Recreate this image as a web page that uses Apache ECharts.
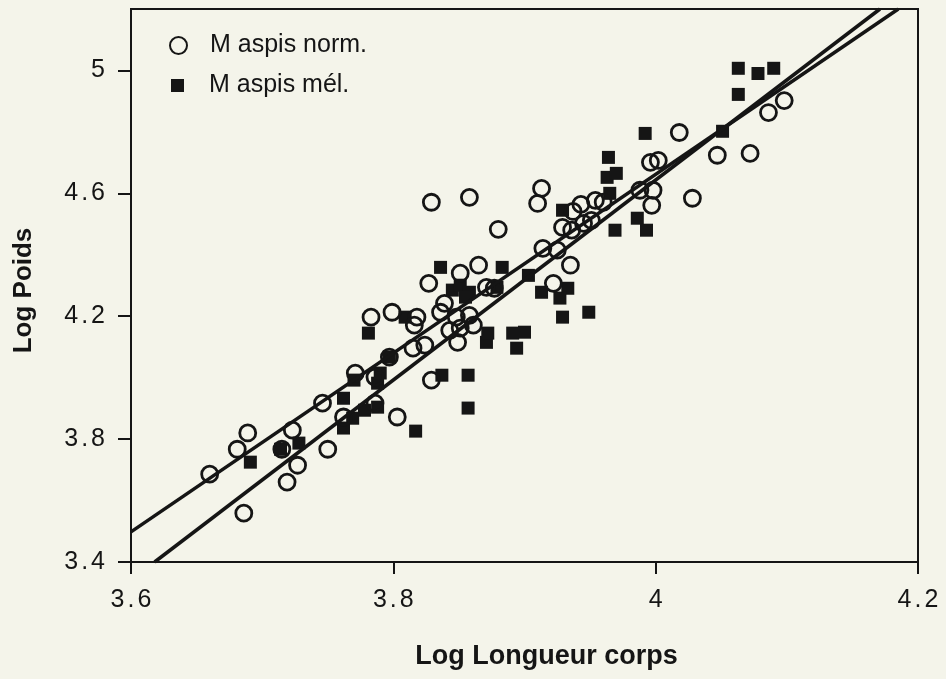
<!DOCTYPE html>
<html>
<head>
<meta charset="utf-8">
<script src="https://cdn.jsdelivr.net/npm/echarts@6/dist/echarts.min.js"></script>
<style>
html,body{margin:0;padding:0;background:#f4f4ea;}
#c{width:946px;height:679px;}
</style>
</head>
<body>
<div id="c"></div>
<script>
// Tick labels
const xTicks = [3.6, 3.8, 4.0, 4.2];
const yTicks = [3.4, 3.8, 4.2, 4.6, 5.0];

// M aspis norm. (open circles)
const normX = [3.660,3.681,3.689,3.686,3.715,3.723,3.727,3.719,3.750,3.746,3.762,3.786,3.803,3.783,3.799,3.818,3.816,3.827,3.836,3.839,3.824,3.815,3.771,3.786,3.829,3.829,3.858,3.880,3.851,3.865,3.858,3.871,3.877,3.848,3.861,3.851,3.843,3.849,3.797,3.914,3.925,3.935,3.922,3.910,3.913,3.937,3.943,3.954,3.960,3.929,3.936,3.945,3.951,3.988,3.998,3.997,3.996,4.002,4.047,4.072,4.028,4.018,4.086,4.098];
const normY = [3.686,3.767,3.820,3.559,3.767,3.829,3.715,3.660,3.767,3.917,3.872,3.917,3.872,4.197,4.213,4.197,4.171,4.307,4.213,4.242,4.106,4.096,4.015,4.002,3.992,4.571,4.587,4.483,4.340,4.366,4.203,4.294,4.291,4.197,4.171,4.161,4.154,4.115,4.067,4.421,4.415,4.366,4.307,4.567,4.616,4.541,4.564,4.577,4.571,4.489,4.480,4.502,4.512,4.610,4.610,4.561,4.701,4.707,4.724,4.730,4.584,4.798,4.863,4.902];

// M aspis mél. (filled squares)
const melX = [3.691,3.714,3.728,3.762,3.762,3.769,3.778,3.788,3.817,3.788,3.790,3.770,3.781,3.809,3.797,3.837,3.857,3.857,3.836,3.883,3.845,3.851,3.858,3.855,3.879,3.871,3.872,3.891,3.900,3.894,3.903,3.913,3.933,3.927,3.929,3.949,3.929,3.965,3.963,3.964,3.970,3.969,3.986,3.993,3.992,4.051,4.063,4.078,4.090,4.063];
const melY = [3.725,3.767,3.787,3.933,3.836,3.868,3.894,3.904,3.826,3.982,4.015,3.992,4.145,4.197,4.067,4.008,4.008,3.901,4.359,4.359,4.285,4.301,4.278,4.262,4.294,4.115,4.145,4.145,4.148,4.096,4.333,4.278,4.291,4.259,4.197,4.213,4.545,4.600,4.652,4.717,4.665,4.480,4.519,4.480,4.795,4.802,5.007,4.990,5.007,4.922];

// Regression lines (end points)
const lineAX = [3.600, 4.185];
const lineAY = [3.498, 5.200];
const lineBX = [3.618, 4.171];
const lineBY = [3.400, 5.200];

const zip = (a, b) => a.map((v, i) => [v, b[i]]);
const fontFam = 'Liberation Sans, Arial, sans-serif';
const ink = '#151515';

// spaced tick text, e.g. "4.6" drawn as 4 . 6 (characters unchanged)
function tickFmt(v) {
  const s = String(+v.toFixed(2));
  const parts = s.split('.');
  if (parts.length === 1) return '{d|' + s + '}';
  return '{d|' + parts[0] + '}{p|.}{d|' + parts[1] + '}';
}
const tickRich = {
  d: { fontFamily: fontFam, fontSize: 25, color: ink },
  p: { fontFamily: fontFam, fontSize: 25, color: ink, padding: [0, 3, 0, 3] }
};

const chart = echarts.init(document.getElementById('c'));
chart.setOption({
  backgroundColor: '#f4f4ea',
  animation: false,
  grid: { left: 131, right: 28, top: 9, bottom: 117, show: true, borderColor: ink, borderWidth: 2, backgroundColor: 'transparent' },
  legend: [
    { data: [{ name: 'M aspis norm.', icon: 'circle' }], left: 164, top: 28, itemWidth: 17, itemHeight: 17, itemGap: 0,
      textStyle: { fontFamily: fontFam, fontSize: 25, color: ink, padding: [0, 0, 0, 18] } },
    { data: [{ name: 'M aspis mél.', icon: 'rect' }], left: 166, top: 68, itemWidth: 13, itemHeight: 13, itemGap: 0,
      textStyle: { fontFamily: fontFam, fontSize: 25, color: ink, padding: [0, 0, 0, 20] } }
  ],
  xAxis: {
    type: 'value', min: 3.6, max: 4.2, interval: 0.2,
    name: 'Log Longueur corps', nameLocation: 'middle', nameGap: 81,
    nameTextStyle: { fontFamily: fontFam, fontSize: 27, fontWeight: 'bold', color: ink, padding: [0, 0, 0, 44] },
    axisLine: { show: true, lineStyle: { color: ink, width: 2 } },
    axisTick: { show: true, length: 12, lineStyle: { color: ink, width: 2 }, customValues: xTicks },
    axisLabel: { margin: 26, customValues: xTicks, formatter: tickFmt, rich: tickRich },
    splitLine: { show: false }
  },
  yAxis: {
    type: 'value', min: 3.4, max: 5.2, interval: 0.4,
    name: 'Log Poids', nameLocation: 'middle', nameGap: 94,
    nameTextStyle: { fontFamily: fontFam, fontSize: 26, fontWeight: 'bold', color: ink, padding: [0, 10, 0, 0] },
    axisLine: { show: true, lineStyle: { color: ink, width: 2 } },
    axisTick: { show: true, length: 13, lineStyle: { color: ink, width: 2 }, customValues: yTicks },
    axisLabel: { margin: 26, customValues: yTicks, formatter: tickFmt, rich: tickRich },
    splitLine: { show: false }
  },
  series: [
    { name: 'M aspis mél.', type: 'scatter', symbol: 'rect', symbolSize: 13, z: 3,
      itemStyle: { color: ink, opacity: 1 }, data: zip(melX, melY) },
    { name: 'M aspis norm.', type: 'scatter', symbol: 'circle', symbolSize: 16, z: 4,
      itemStyle: { color: 'rgba(0,0,0,0)', borderColor: ink, borderWidth: 2.8, opacity: 1 }, data: zip(normX, normY) },
    { name: 'lineA', type: 'line', symbol: 'none', z: 5, lineStyle: { color: ink, width: 3.5 }, data: zip(lineAX, lineAY) },
    { name: 'lineB', type: 'line', symbol: 'none', z: 5, lineStyle: { color: ink, width: 3.5 }, data: zip(lineBX, lineBY) }
  ]
});
</script>
</body>
</html>
